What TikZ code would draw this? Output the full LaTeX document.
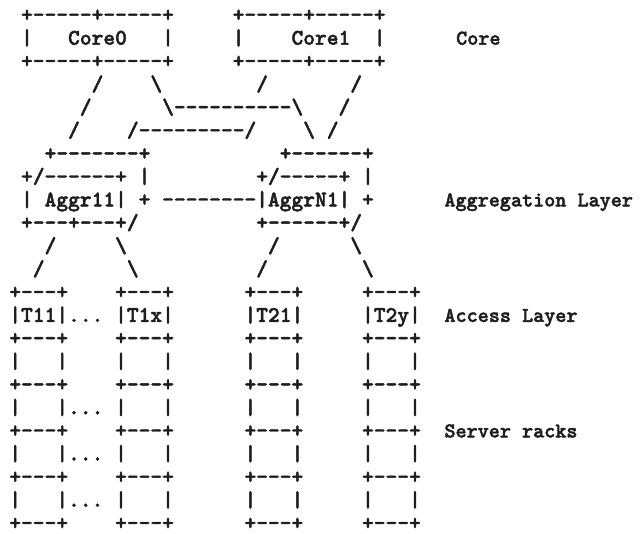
\documentclass[tikz,border=0pt]{standalone}
\usepackage{fontspec}
\setmonofont{lmmonolt10-bold.otf}[FakeBold=2]
\usepackage{xcolor}
\usepackage{tikz}
\definecolor{ink}{RGB}{30,30,30}
\newcommand{\bsl}{\textbackslash}

\begin{document}
\begin{tikzpicture}[x=11.76bp,y=-23.1bp]
  \tikzset{every node/.style={anchor=base west,inner sep=0pt,text=ink,
      font=\ttfamily\fontsize{22.48pt}{23pt}\selectfont},
    layer/.style={font=\ttfamily\fontsize{21.2pt}{23pt}\selectfont}}
  \useasboundingbox (-9.12bp,-1.5bp) rectangle (631.88bp,-535.5bp);
  % core
  \node (coreT) at (1,1) {+-----+-----+~~~~~+-----+-----+};
  \node (coreM) at (1,2) {|~~~Core0~~~|~~~~~|~~~~Core1~~|};
  \node (coreB) at (1,3) {+-----+-----+~~~~~+-----+-----+};
  \node[layer] (lblCore) at (38,2) {Core};
  % core - aggregation links
  \node (upA) at (7,4) {/~~~~\bsl~~~~~~~~/~~~~~~~/};
  \node (upB) at (6,5) {/~~~~~~\bsl----------\bsl~~~/};
  \node (upC) at (5,6) {/~~~~/---------/~~~~\bsl~/};
  % aggregation
  \node (aggT) at (3,7) {+-------+~~~~~~~~~~~+------+};
  \node (aggU) at (1,8) {+/------+~|~~~~~~~~~+/-----+~|};
  \node (aggM) at (1,9) {|~Aggr11|~+~--------|AggrN1|~+};
  \node (aggB) at (1,10) {+---+---+/~~~~~~~~~~+------+/};
  \node[layer] (lblAgg) at (37,9) {Aggregation Layer};
  % aggregation - access links
  \node (dnA) at (3,11) {/~~~~~\bsl~~~~~~~~~~~~/~~~~~~\bsl};
  \node (dnB) at (2,12) {/~~~~~~~\bsl~~~~~~~~~~/~~~~~~~~\bsl};
  % access
  \node (torT) at (0,13) {+---+~~~~+---+~~~~~~+---+~~~~~+---+};
  \node (torM) at (0,14) {|T11|...~|T1x|~~~~~~|T21|~~~~~|T2y|};
  \node (torB) at (0,15) {+---+~~~~+---+~~~~~~+---+~~~~~+---+};
  \node[layer] (lblAcc) at (37,14) {Access Layer};
  % server racks
  \node (rkA) at (0,16) {|~~~|~~~~|~~~|~~~~~~|~~~|~~~~~|~~~|};
  \node (rkAb) at (0,17) {+---+~~~~+---+~~~~~~+---+~~~~~+---+};
  \node (rkB) at (0,18) {|~~~|...~|~~~|~~~~~~|~~~|~~~~~|~~~|};
  \node (rkBb) at (0,19) {+---+~~~~+---+~~~~~~+---+~~~~~+---+};
  \node (rkC) at (0,20) {|~~~|...~|~~~|~~~~~~|~~~|~~~~~|~~~|};
  \node (rkCb) at (0,21) {+---+~~~~+---+~~~~~~+---+~~~~~+---+};
  \node (rkD) at (0,22) {|~~~|...~|~~~|~~~~~~|~~~|~~~~~|~~~|};
  \node (rkDb) at (0,23) {+---+~~~~+---+~~~~~~+---+~~~~~+---+};
  \node[layer] (lblSrv) at (37,19) {Server racks};
\end{tikzpicture}
\end{document}
